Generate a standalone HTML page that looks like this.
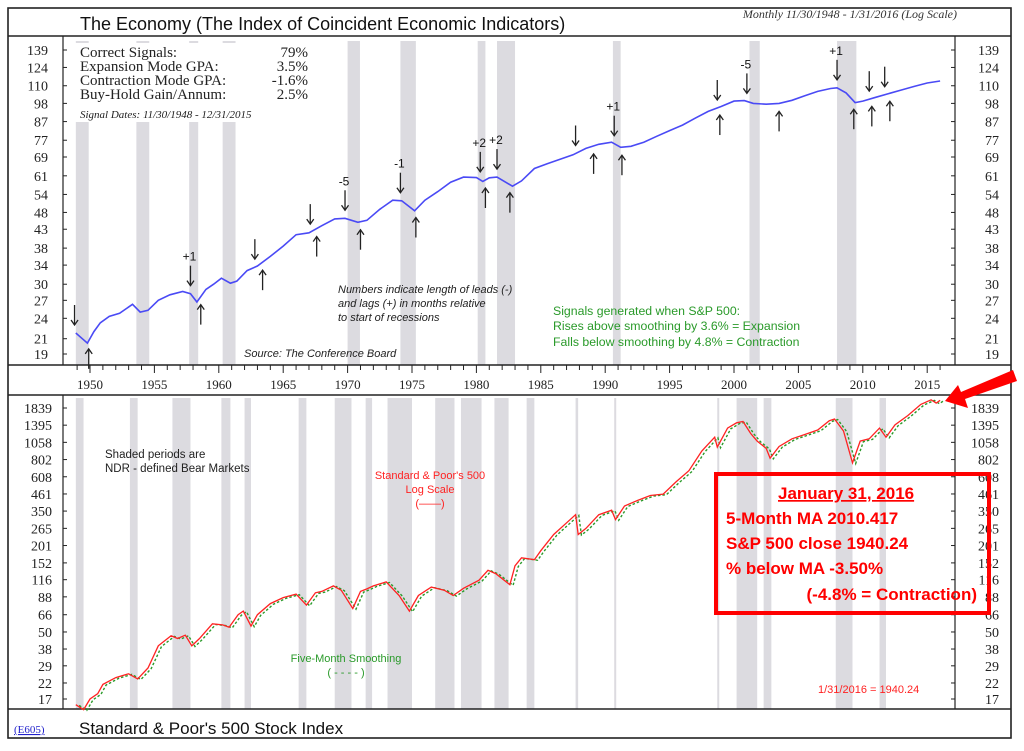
<!DOCTYPE html>
<html><head><meta charset="utf-8"><style>
html,body{margin:0;padding:0;background:#fff;width:1024px;height:751px;overflow:hidden}
svg{display:block}
.ser{font-family:"Liberation Serif",serif}
.sans{font-family:"Liberation Sans",sans-serif}
</style></head><body>
<svg id="chart" width="1024" height="751" viewBox="0 0 1024 751" xmlns="http://www.w3.org/2000/svg">
<g id="bands"></g>
<g id="frame" stroke="#222" fill="none">
<rect x="8" y="8" width="1003" height="730" stroke-width="1.6"/>
<line x1="8" y1="36" x2="1011" y2="36" stroke-width="1.4"/>
<line x1="8" y1="365" x2="1011" y2="365" stroke-width="1.4"/>
<line x1="8" y1="395" x2="1011" y2="395" stroke-width="1.4"/>
<line x1="8" y1="709" x2="1011" y2="709" stroke-width="1.4"/>
<line x1="63" y1="36" x2="63" y2="365" stroke-width="1.2"/>
<line x1="955" y1="36" x2="955" y2="365" stroke-width="1.2"/>
<line x1="63" y1="395" x2="63" y2="709" stroke-width="1.2"/>
<line x1="955" y1="395" x2="955" y2="709" stroke-width="1.2"/>
</g>
<g id="axes"></g>
<g id="series"></g>
<g id="arrows"></g>
<text class="sans" x="80" y="30" font-size="18" fill="#111">The Economy (The Index of Coincident Economic Indicators)</text>
<text class="ser" x="957" y="18" font-size="12" font-style="italic" text-anchor="end" fill="#333">Monthly 11/30/1948 - 1/31/2016 (Log Scale)</text>
<g class="ser" font-size="15" fill="#222">
<text x="80" y="57">Correct Signals:</text><text x="308" y="57" text-anchor="end">79%</text>
<text x="80" y="71">Expansion Mode GPA:</text><text x="308" y="71" text-anchor="end">3.5%</text>
<text x="80" y="85">Contraction Mode GPA:</text><text x="308" y="85" text-anchor="end">-1.6%</text>
<text x="80" y="99">Buy-Hold Gain/Annum:</text><text x="308" y="99" text-anchor="end">2.5%</text>
<text x="80" y="118" font-size="11" font-style="italic">Signal Dates: 11/30/1948 - 12/31/2015</text>
</g>
<g class="sans" font-size="11" font-style="italic" fill="#222">
<text x="338" y="293">Numbers indicate length of leads (-)</text>
<text x="338" y="307">and lags (+) in months relative</text>
<text x="338" y="321">to start of recessions</text>
</g>
<text class="sans" x="244" y="357" font-size="11" font-style="italic" fill="#222">Source: The Conference Board</text>
<g class="sans" font-size="12.3" fill="#2a9a2a">
<text x="553" y="315">Signals generated when S&amp;P 500:</text>
<text x="553" y="330">Rises above smoothing by 3.6% = Expansion</text>
<text x="553" y="346">Falls below smoothing by 4.8% = Contraction</text>
</g>
<g class="sans" font-size="11.5" fill="#222">
<text x="105" y="458">Shaded periods are</text>
<text x="105" y="472">NDR - defined Bear Markets</text>
</g>
<g class="sans" font-size="11" fill="#f22" text-anchor="middle">
<text x="430" y="479">Standard &amp; Poor's 500</text>
<text x="430" y="493">Log Scale</text>
<text x="430" y="507">(——)</text>
</g>
<g class="sans" font-size="11" fill="#2a9a2a" text-anchor="middle">
<text x="346" y="662">Five-Month Smoothing</text>
<text x="346" y="676">( - - - - )</text>
</g>
<text class="sans" x="818" y="693" font-size="11" fill="#f22">1/31/2016 = 1940.24</text>
<g>
<rect x="716" y="474" width="273" height="139" fill="none" stroke="#f00" stroke-width="4"/>
<g class="sans" font-weight="bold" font-size="17" fill="#f00">
<text x="778" y="499" text-decoration="underline">January 31, 2016</text>
<text x="726" y="524">5-Month MA 2010.417</text>
<text x="726" y="549">S&amp;P 500 close 1940.24</text>
<text x="726" y="574">% below MA -3.50%</text>
<text x="977" y="600" text-anchor="end">(-4.8% = Contraction)</text>
</g>
</g>
<polygon points="1013,370 1017,381 965,399 968,408 945,401 958,385 961,392" fill="#f00"/>
<text class="ser" x="14" y="733" font-size="11" fill="#22c" text-decoration="underline">(E605)</text>
<text class="sans" x="79" y="734" font-size="17" fill="#111">Standard &amp; Poor's 500 Stock Index</text>
</svg>
<script>
// ---- data ----
const econYears = [1948.9,1949.4,1949.8,1950.3,1950.8,1951.5,1952.3,1953.3,1953.9,1954.5,1955.3,1956.2,1957.2,1957.8,1958.3,1959.0,1959.6,1960.2,1960.9,1961.4,1962.2,1963.0,1964.0,1965.0,1966.0,1967.0,1968.0,1969.0,1969.8,1970.8,1971.5,1972.5,1973.5,1974.2,1975.2,1976.0,1977.0,1978.0,1979.0,1980.0,1980.5,1981.0,1981.6,1982.8,1983.5,1984.5,1985.5,1986.5,1987.5,1988.5,1989.5,1990.5,1991.2,1992.0,1993.0,1994.0,1995.0,1996.0,1997.0,1998.0,1999.0,2000.0,2000.8,2001.5,2002.5,2003.5,2004.5,2005.5,2006.5,2007.5,2008.0,2008.7,2009.4,2010.0,2011.0,2012.0,2013.0,2014.0,2015.0,2016.0];
const econValues = [21.8,21.0,20.4,22.0,23.3,24.3,24.8,26.3,25.0,25.3,27.0,28.0,28.6,28.2,26.7,29.0,30.0,31.2,30.2,30.6,32.8,33.8,36.0,38.5,41.5,42.0,44.0,46.0,46.2,45.0,45.6,49.0,52.0,51.8,48.5,52.0,55.0,58.5,60.5,60.3,58.8,60.2,60.5,57.0,59.0,64.0,66.0,68.0,70.0,73.0,75.0,76.0,73.5,74.0,76.0,79.0,82.0,85.0,89.0,93.0,96.0,99.5,99.8,98.0,97.5,98.0,100.0,103.0,106.0,108.0,108.5,105.0,98.5,99.5,102.0,104.5,107.0,109.5,112.0,113.5];
const spYears = [1948.9,1949.5,1950.0,1950.6,1951.0,1952.0,1953.0,1953.7,1954.5,1955.3,1956.3,1956.8,1957.4,1957.9,1958.5,1959.5,1960.3,1960.8,1961.5,1961.9,1962.5,1963.0,1964.0,1965.0,1966.0,1966.8,1967.5,1968.0,1968.9,1969.5,1970.4,1971.0,1971.5,1972.0,1973.0,1974.0,1974.8,1975.5,1976.5,1977.5,1978.2,1979.0,1980.2,1980.9,1981.5,1982.6,1983.0,1983.5,1984.5,1985.0,1986.0,1987.0,1987.7,1987.9,1988.5,1989.5,1990.5,1990.8,1991.5,1992.5,1993.5,1994.5,1995.5,1996.5,1997.5,1998.5,1998.7,1999.5,2000.2,2000.7,2001.3,2001.8,2002.5,2002.8,2003.5,2004.5,2005.5,2006.5,2007.4,2007.8,2008.5,2009.2,2009.8,2010.5,2011.3,2011.8,2012.5,2013.5,2014.5,2015.3,2015.7,2016.0];
const spValues = [15.5,14.3,17.0,18.5,21.5,24.0,25.5,23.5,28.0,40.0,47.0,45.0,47.5,40.0,45.0,57.0,56.0,54.0,66.0,70.0,55.0,66.0,79.0,87.0,92.0,77.0,94.0,96.0,105.0,98.0,73.0,96.0,100.0,105.0,112.0,90.0,70.0,90.0,103.0,98.0,90.0,101.0,115.0,135.0,128.0,107.0,145.0,165.0,160.0,185.0,240.0,290.0,330.0,240.0,265.0,330.0,355.0,305.0,380.0,415.0,450.0,460.0,560.0,670.0,920.0,1150.0,980.0,1330.0,1450.0,1480.0,1220.0,1080.0,960.0,820.0,990.0,1120.0,1200.0,1290.0,1500.0,1540.0,1270.0,760.0,1080.0,1120.0,1330.0,1150.0,1400.0,1630.0,1950.0,2100.0,1990.0,2080.0];
const recessionStart = [1948.9,1953.6,1957.7,1960.3,1970.0,1974.1,1980.1,1981.6,1990.6,2001.2,2008.0];
const recessionEnd   = [1949.9,1954.6,1958.4,1961.3,1970.96,1975.3,1980.7,1983.0,1991.2,2002.0,2009.5];
const bearStart = [1948.9,1953.1,1956.4,1960.2,1962.0,1966.2,1969.0,1971.4,1973.1,1976.8,1978.8,1981.4,1983.9,1987.7,1990.7,1998.7,2000.2,2002.3,2007.9,2011.3];
const bearEnd   = [1949.5,1953.7,1957.8,1960.9,1962.5,1966.8,1970.3,1971.9,1975.0,1978.3,1980.4,1982.5,1984.5,1987.9,1990.8,1998.8,2001.8,2002.9,2009.2,2011.8];
const econTicks = [139,124,110,98,87,77,69,61,54,48,43,38,34,30,27,24,21,19];
const spTicks = [1839,1395,1058,802,608,461,350,265,201,152,116,88,66,50,38,29,22,17];
const yearLabels = [1950,1955,1960,1965,1970,1975,1980,1985,1990,1995,2000,2005,2010,2015];
const sigYears = [1948.8,1949.9,1957.8,1958.6,1962.8,1963.4,1967.1,1967.6,1969.8,1971.0,1974.1,1975.3,1980.3,1980.7,1981.6,1982.6,1987.7,1989.1,1990.7,1991.3,1998.7,1998.9,2001.0,2003.5,2008.0,2009.3,2010.5,2010.7,2011.7,2012.1];
const sigDir = ["d","u","d","u","d","u","d","u","d","u","d","u","d","u","d","u","d","u","d","u","d","u","d","u","d","u","d","u","d","u"];
const sigLabel = ["","","+1","","","","","","-5","","-1","","+2","","+2","","","","+1","","","","-5","","+1","","","","",""];

const NS="http://www.w3.org/2000/svg";
function xs(yr){return 90+(yr-1950)*12.88;}
function yE(v){return 50+(Math.log(139)-Math.log(v))/Math.log(139/19)*304;}
function yS(v){return 408+(Math.log(1839)-Math.log(v))/Math.log(1839/17)*291;}
function mk(tag,attrs,parent){const e=document.createElementNS(NS,tag);for(const k in attrs)e.setAttribute(k,attrs[k]);parent.appendChild(e);return e;}
function interp(yrs,vals,yr){if(yr<=yrs[0])return vals[0];for(let i=1;i<yrs.length;i++){if(yr<=yrs[i]){const t=(yr-yrs[i-1])/(yrs[i]-yrs[i-1]);return Math.exp(Math.log(vals[i-1])*(1-t)+Math.log(vals[i])*t);}}return vals[vals.length-1];}

const bands=document.getElementById('bands');
recessionStart.forEach((s,i)=>{
  const early = s<1962;
  const r=mk('rect',{x:xs(s),y:early?122:41,width:xs(recessionEnd[i])-xs(s),height:early?243:324,fill:'#dcdbe0'},bands);
  
  
  if(early){const st=mk('rect',{x:xs(s),y:41,width:xs(recessionEnd[i])-xs(s),height:2,fill:'#dcdbe0'},bands);
    
    }
});
bearStart.forEach((s,i)=>{
  const w=Math.max(2,xs(bearEnd[i])-xs(s));
  const r=mk('rect',{x:xs(s),y:398,width:w,height:311,fill:'#dcdbe0'},bands);
  
  
});

const axes=document.getElementById('axes');
econTicks.forEach(v=>{
  const y=yE(v);
  mk('line',{x1:63,y1:y,x2:67,y2:y,stroke:'#222'},axes);
  mk('line',{x1:951,y1:y,x2:955,y2:y,stroke:'#222'},axes);
  const t=mk('text',{x:48,y:y+5,'font-size':14,'text-anchor':'end',class:'ser',fill:'#222'},axes);t.textContent=v;
  
  
  const t2=mk('text',{x:999,y:y+5,'font-size':14,'text-anchor':'end',class:'ser',fill:'#222'},axes);t2.textContent=v;
  
  
});
spTicks.forEach(v=>{
  const y=yS(v);
  mk('line',{x1:63,y1:y,x2:67,y2:y,stroke:'#222'},axes);
  mk('line',{x1:951,y1:y,x2:955,y2:y,stroke:'#222'},axes);
  const t=mk('text',{x:52,y:y+5,'font-size':14,'text-anchor':'end',class:'ser',fill:'#222'},axes);t.textContent=v;
  
  
  const t2=mk('text',{x:999,y:y+5,'font-size':14,'text-anchor':'end',class:'ser',fill:'#222'},axes);t2.textContent=v;
  
  
});
for(let yr=1949;yr<=2016;yr++){
  const x=xs(yr);
  mk('line',{x1:x,y1:365,x2:x,y2:yr%5===0?373:370,stroke:'#222'},axes);
}
yearLabels.forEach(yr=>{
  const t=mk('text',{x:xs(yr),y:389,'font-size':13,'text-anchor':'middle',class:'ser',fill:'#222'},axes);t.textContent=yr;
  
  
});

const series=document.getElementById('series');
const pe=mk('polyline',{points:econYears.map((y,i)=>xs(y).toFixed(1)+','+yE(econValues[i]).toFixed(1)).join(' '),fill:'none',stroke:'#4a4af5','stroke-width':1.6},series);


const ps=mk('polyline',{points:spYears.map((y,i)=>xs(y+0.25).toFixed(1)+','+yS(spValues[i]*0.99).toFixed(1)).join(' '),fill:'none',stroke:'#2a9a2a','stroke-width':1.4,'stroke-dasharray':'2.5,2'},series);


const pr=mk('polyline',{points:spYears.map((y,i)=>xs(y).toFixed(1)+','+yS(spValues[i]).toFixed(1)).join(' '),fill:'none',stroke:'#f22','stroke-width':1.3},series);



const arrows=document.getElementById('arrows');
sigYears.forEach((yr,i)=>{
  const x=xs(yr), v=interp(econYears,econValues,yr), yl=yE(v);
  const g=mk('g',{stroke:'#222','stroke-width':1.3,fill:'none'},arrows);
  
  
  if(sigDir[i]==='d'){
    const yb=yl-8, ya=yb-20;
    mk('line',{x1:x,y1:ya,x2:x,y2:yb},g);
    mk('polyline',{points:`${x-3.5},${yb-5} ${x},${yb} ${x+3.5},${yb-5}`},g);
    if(sigLabel[i]){const t=mk('text',{x:x-1,y:ya-5,'font-size':12,'text-anchor':'middle',class:'sans',fill:'#111',stroke:'none'},g);t.textContent=sigLabel[i];}
  } else {
    const ya=yl+8, yb=ya+20;
    mk('line',{x1:x,y1:ya,x2:x,y2:yb},g);
    mk('polyline',{points:`${x-3.5},${ya+5} ${x},${ya} ${x+3.5},${ya+5}`},g);
  }
});
</script>
</body></html>
